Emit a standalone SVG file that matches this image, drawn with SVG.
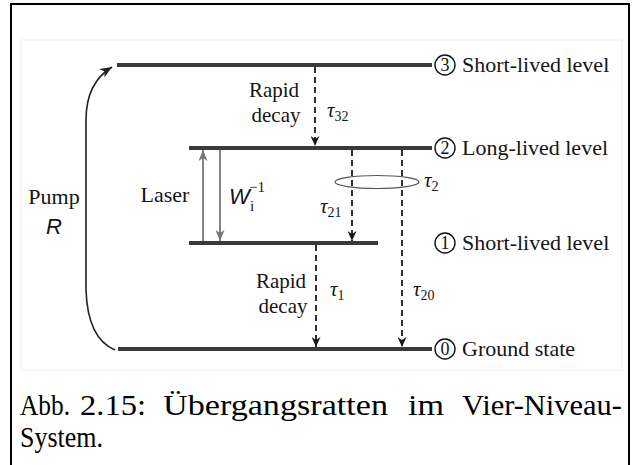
<svg xmlns="http://www.w3.org/2000/svg" width="636" height="465" viewBox="0 0 636 465">
<style>
.lvl{stroke:#3a3a3a;stroke-width:4;fill:none}
.dash{stroke:#1a1a1a;stroke-width:1.8;stroke-dasharray:6 4;fill:none;marker-end:url(#ah)}
.lsr{stroke:#666;stroke-width:1.6;fill:none}
.t{font-family:"Liberation Serif",serif;font-size:21px;fill:#151515}
.lv{font-family:"Liberation Serif",serif;font-size:22px;fill:#151515}
.tau{font-family:"Liberation Serif",serif;font-style:italic;font-size:21px;fill:#151515}
.sub{font-size:14px;font-style:normal}
.sans{font-family:"Liberation Sans",sans-serif;font-style:italic;font-size:22px;fill:#151515}
.circ{fill:none;stroke:#111;stroke-width:1.4}
.num{font-family:"Liberation Serif",serif;font-size:18px;fill:#111;text-anchor:middle}
.cap{font-family:"Liberation Serif",serif;font-size:29px;fill:#000}
</style>
<defs>
<marker id="ah" markerUnits="userSpaceOnUse" markerWidth="10" markerHeight="9" refX="10" refY="4.5" orient="auto">
<path d="M0,0 L10,4.5 L0,9 L3,4.5 z" fill="#1a1a1a"/>
</marker>
<marker id="ahg" markerUnits="userSpaceOnUse" markerWidth="11" markerHeight="9" refX="11" refY="4.5" orient="auto">
<path d="M0,0 L11,4.5 L0,9 L3,4.5 z" fill="#777"/>
</marker>
<marker id="ahp" markerUnits="userSpaceOnUse" markerWidth="12" markerHeight="10" refX="12" refY="5" orient="auto">
<path d="M0,0 L12,5 L0,10 L3.5,5 z" fill="#222"/>
</marker>
</defs>
<rect x="0" y="0" width="636" height="465" fill="#fff"/>
<path d="M11,465 V4 H629 V465" fill="none" stroke="#000" stroke-width="2"/>
<rect x="21" y="40" width="601" height="330" fill="none" stroke="#f0f0f0" stroke-width="1"/>

<g id="connectors">
<path d="M115,350 C96,342 87,320 86,290 L86,120 C86,95 94,78 112,67" fill="none" stroke="#222" stroke-width="1.6" marker-end="url(#ahp)"/>
<line class="lsr" x1="203" y1="243" x2="203" y2="150" marker-end="url(#ahg)"/>
<line class="lsr" x1="220" y1="148" x2="220" y2="241" marker-end="url(#ahg)"/>
<line class="dash" x1="315" y1="67" x2="315" y2="146"/>
<line class="dash" x1="352" y1="150" x2="352" y2="241"/>
<line class="dash" x1="402" y1="150" x2="402" y2="347"/>
<line class="dash" x1="316" y1="245" x2="316" y2="347"/>
<ellipse cx="377" cy="182" rx="42" ry="6.5" fill="none" stroke="#555" stroke-width="1.2"/>
</g>

<g id="level3">
<line class="lvl" x1="117" y1="65" x2="432" y2="65"/>
<circle class="circ" cx="445" cy="65" r="10"/>
<text class="num" x="445" y="71">3</text>
<text class="lv" x="462" y="72">Short-lived level</text>
</g>
<g id="level2">
<line class="lvl" x1="189" y1="148" x2="432" y2="148"/>
<circle class="circ" cx="445" cy="148" r="10"/>
<text class="num" x="445" y="154">2</text>
<text class="lv" x="462" y="155">Long-lived level</text>
</g>
<g id="level1">
<line class="lvl" x1="189" y1="243" x2="378" y2="243"/>
<circle class="circ" cx="445" cy="243" r="10"/>
<text class="num" x="445" y="249">1</text>
<text class="lv" x="462" y="250">Short-lived level</text>
</g>
<g id="level0">
<line class="lvl" x1="118" y1="349" x2="432" y2="349"/>
<circle class="circ" cx="445" cy="349" r="10"/>
<text class="num" x="445" y="355">0</text>
<text class="lv" x="462" y="356">Ground state</text>
</g>

<g id="labels">
<text class="lv" x="54" y="204" text-anchor="middle">Pump</text>
<text class="sans" x="54" y="234" text-anchor="middle">R</text>
<text class="lv" x="165" y="202" text-anchor="middle">Laser</text>
<text class="sans" x="229" y="204">W</text>
<text class="t" x="250" y="211" style="font-size:15px">i</text>
<text class="t" x="249" y="192" style="font-size:15px">−1</text>
<text class="t" x="274" y="97" text-anchor="middle">Rapid</text>
<text class="t" x="276" y="122" text-anchor="middle">decay</text>
<text class="tau" x="327" y="117">τ<tspan class="sub" dy="4">32</tspan></text>
<text class="tau" x="320" y="213">τ<tspan class="sub" dy="4">21</tspan></text>
<text class="tau" x="424" y="187">τ<tspan class="sub" dy="4">2</tspan></text>
<text class="t" x="281" y="288" text-anchor="middle">Rapid</text>
<text class="t" x="283" y="313" text-anchor="middle">decay</text>
<text class="tau" x="330" y="296">τ<tspan class="sub" dy="4">1</tspan></text>
<text class="tau" x="413" y="296">τ<tspan class="sub" dy="4">20</tspan></text>
</g>

<g id="caption">
<text class="cap" x="20" y="415" textLength="50" lengthAdjust="spacingAndGlyphs">Abb.</text>
<text class="cap" x="80" y="415" textLength="66" lengthAdjust="spacingAndGlyphs">2.15:</text>
<text class="cap" x="163" y="415" textLength="225" lengthAdjust="spacingAndGlyphs">Übergangsratten</text>
<text class="cap" x="408" y="415" textLength="36" lengthAdjust="spacingAndGlyphs">im</text>
<text class="cap" x="462" y="415" textLength="160" lengthAdjust="spacingAndGlyphs">Vier-Niveau-</text>
<text class="cap" x="20" y="447" textLength="83" lengthAdjust="spacingAndGlyphs">System.</text>
</g>
</svg>
